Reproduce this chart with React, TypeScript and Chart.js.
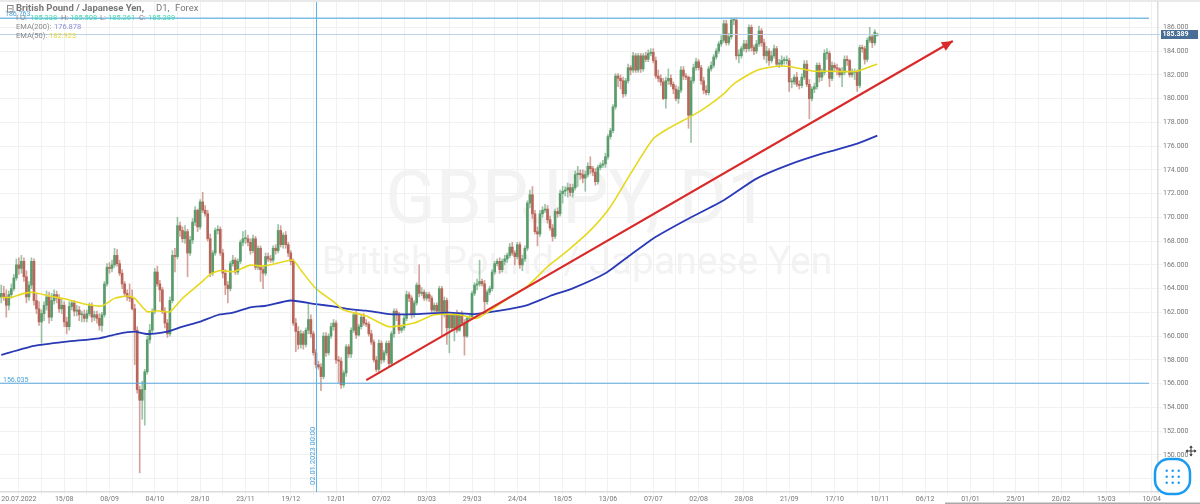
import React, { useEffect, useRef } from "react";
import { Chart, registerables } from "chart.js";

Chart.register(...registerables);

const slotCount = 460;
const tickLabels = ["20.07.2022","15/08","08/09","04/10","28/10","23/11","19/12","12/01","07/02","03/03","29/03","24/04","18/05","13/06","07/07","02/08","28/08","21/09","17/10","10/11","06/12","01/01","25/01","20/02","15/03","10/04"];
const yTicks = [148,150,152,154,156,158,160,162,164,166,168,170,172,174,176,178,180,182,184,186];

const opens = [
163.3,163.6,163.3,162.6,163.5,164.0,164.9,166.0,165.7,166.3,165.0,163.3,164.3,166.3,163.0,162.3,161.2,161.9,162.6,163.3,
161.6,163.0,163.5,163.2,162.3,162.6,161.2,160.8,162.5,162.8,162.1,162.2,161.8,161.8,161.5,161.9,162.6,161.6,161.8,161.5,
160.9,161.8,164.4,165.8,165.7,166.0,166.8,166.1,165.3,164.4,163.6,163.3,163.2,162.3,160.5,155.5,154.6,155.5,157.0,159.7,
160.5,162.1,165.4,164.4,163.9,162.1,161.1,160.2,163.0,166.8,166.7,169.3,168.9,168.2,168.8,167.0,168.1,169.6,170.6,169.2,
171.3,170.6,170.3,168.2,165.3,167.0,168.9,169.0,167.0,165.3,164.3,164.0,166.1,166.4,165.4,166.3,167.9,168.2,168.2,167.9,
167.2,168.2,165.8,167.4,165.6,165.3,166.7,166.5,166.4,167.4,167.2,168.9,167.7,168.5,167.7,167.0,166.3,161.1,160.4,
159.3,160.2,159.3,160.5,161.4,160.2,158.6,157.6,157.4,156.6,160.0,158.6,160.0,160.8,161.1,158.0,157.9,155.9,156.9,159.1,
158.5,160.5,161.8,160.1,160.8,161.6,161.1,161.0,160.2,159.5,158.0,157.2,159.4,158.0,158.6,159.4,157.7,160.2,162.1,161.8,
160.5,160.7,161.5,163.5,163.2,161.8,162.8,164.3,163.6,163.7,163.2,163.5,163.2,162.2,162.6,162.1,164.0,161.8,163.0,160.7,
161.8,160.7,161.8,160.5,161.9,161.1,160.0,161.5,161.6,163.6,164.3,164.4,164.6,164.4,162.9,163.7,164.0,165.4,166.1,166.3,
165.6,166.3,166.5,166.8,167.5,167.0,166.7,167.7,166.0,166.5,
167.4,171.2,171.9,170.3,168.8,168.6,170.3,170.6,170.7,169.8,169.1,168.4,170.5,170.3,172.0,172.2,172.3,172.5,172.1,172.5,173.6,173.7,173.6,173.3,173.6,174.3,
174.1,173.8,173.0,174.2,174.4,174.5,175.1,176.8,177.3,179.3,181.9,181.7,181.5,180.4,181.5,182.6,182.4,183.6,182.4,183.6,
182.5,183.6,183.3,183.8,183.9,183.2,181.9,181.7,181.4,180.0,181.5,181.7,181.2,180.8,180.0,180.7,182.4,181.9,181.8,178.6,
181.5,182.6,183.1,182.6,181.5,180.7,180.5,182.5,182.8,183.5,184.0,184.6,184.9,186.3,184.7,185.2,186.6,186.6,183.6,183.6,
184.2,184.6,184.2,186.0,184.3,184.0,184.6,185.7,184.7,183.6,184.0,183.2,183.6,184.2,182.9,182.9,183.2,183.2,183.2,181.4,
181.4,181.8,181.2,181.1,181.8,182.9,181.2,180.0,180.8,181.0,182.8,181.8,182.2,183.8,183.8,181.7,182.8,182.6,182.5,182.0,
182.2,183.3,183.2,182.0,182.2,182.2,181.1,184.3,184.2,183.3,184.9,185.2,184.7,185.34];

const highs = [
164.3,164.2,163.9,163.8,164.4,165.2,166.5,166.6,166.8,166.6,165.5,164.6,166.6,166.5,163.6,162.9,162.2,162.9,163.8,163.7,
163.6,163.9,163.8,163.5,163.2,162.9,161.6,162.9,163.0,163.0,162.6,162.5,162.1,162.2,162.2,162.8,162.8,162.1,162.1,161.9,
162.0,164.6,166.1,166.2,166.4,167.4,167.3,166.4,165.6,164.6,163.9,164.4,163.9,162.7,160.8,155.8,156.2,157.2,160.0,161.0,
162.3,165.7,165.9,164.7,164.1,162.4,161.4,163.3,167.2,167.4,170.0,169.6,169.2,169.3,169.0,168.4,169.9,170.9,170.7,171.5,
172.1,171.0,170.6,168.6,167.2,169.1,169.3,169.2,167.3,165.6,164.6,166.3,166.8,166.6,166.5,168.1,168.8,168.9,168.5,168.2,
168.5,168.4,167.6,167.6,165.9,167.0,167.0,166.8,167.6,167.7,169.4,169.3,168.7,168.8,167.9,167.2,166.5,161.5,160.8,
160.5,160.4,160.7,162.7,161.8,160.4,158.9,157.9,157.7,160.3,160.3,160.2,161.1,161.4,161.3,158.3,158.2,157.1,159.3,159.3,
160.7,162.0,162.1,161.0,161.8,161.9,161.4,161.2,160.5,159.7,158.3,159.7,159.6,158.8,159.6,159.6,160.4,162.3,162.3,162.0,
160.9,161.8,163.8,163.7,163.4,163.0,164.5,166.0,164.1,163.9,163.7,163.7,163.4,162.8,162.8,164.2,164.2,163.3,163.2,161.9,
162.0,161.9,162.2,162.0,162.1,161.4,161.7,161.8,163.8,164.5,164.8,166.4,164.8,164.7,163.9,164.2,165.6,166.3,166.5,166.6,
166.5,166.8,167.0,167.8,167.9,167.2,167.9,167.9,166.8,167.6,
171.4,172.3,172.6,170.6,169.2,170.6,170.9,171.1,171.0,170.1,169.4,170.7,170.8,172.3,172.6,172.6,172.9,172.8,172.8,173.9,174.3,174.0,174.0,173.9,174.6,175.1,
174.3,174.1,174.4,174.6,174.8,175.4,177.0,177.5,179.5,182.1,182.1,182.0,181.8,181.7,182.9,182.8,183.9,183.8,183.8,183.8,
183.8,183.9,184.1,184.2,184.2,183.5,182.4,182.0,181.7,181.8,182.5,182.0,181.4,181.1,181.0,182.7,182.7,182.1,181.9,181.8,
182.9,183.4,183.3,182.8,181.8,181.1,182.7,183.1,183.7,184.2,184.8,185.3,186.6,186.6,185.5,186.8,186.8,186.8,184.1,184.4,
184.9,184.9,186.2,186.2,184.5,184.9,186.1,185.9,185.0,184.4,184.2,184.0,184.5,184.4,183.3,183.6,183.5,183.6,183.4,181.7,
182.0,182.2,181.5,182.1,183.2,183.2,181.6,181.0,181.3,183.0,183.0,182.5,184.1,184.2,184.0,183.1,183.0,182.9,182.6,182.6,
183.6,183.6,183.3,182.5,182.5,182.4,184.5,184.5,184.4,185.1,186.0,185.4,185.8,185.51];

const lows = [
162.8,163.0,161.6,162.2,163.2,163.8,164.7,165.2,165.3,164.6,162.8,163.0,164.0,162.6,161.9,160.9,159.4,161.3,162.2,161.1,
161.3,162.7,162.8,162.0,161.9,160.8,160.2,160.5,162.2,161.7,161.7,161.3,161.2,161.2,161.2,161.7,161.2,161.3,161.1,160.5,
160.4,161.6,164.2,165.3,165.4,165.8,165.9,165.1,164.0,163.4,163.0,162.9,162.2,157.6,155.2,148.5,153.0,152.5,156.8,159.4,
160.3,161.9,164.2,162.9,161.9,160.7,159.9,160.0,162.8,165.4,166.5,168.4,167.9,167.8,165.0,166.8,167.8,169.3,168.8,169.0,
170.4,170.1,168.0,165.0,165.1,166.8,168.6,166.8,164.9,163.5,162.8,163.8,165.9,165.2,165.2,166.1,167.6,167.8,167.6,166.9,
167.0,165.6,165.6,164.6,164.0,165.1,166.3,166.2,166.2,166.9,167.0,167.5,167.4,167.4,166.7,166.0,160.9,158.7,158.9,
159.0,158.9,159.1,160.2,159.9,158.4,157.3,157.2,155.4,156.4,158.3,158.4,159.8,160.5,157.7,156.1,155.6,155.7,156.6,158.2,
158.2,160.3,159.8,160.0,160.6,160.9,160.8,160.0,159.3,157.8,157.0,156.9,157.7,157.8,158.4,157.4,157.5,159.9,161.3,160.2,
160.3,160.5,161.3,162.9,161.5,161.6,162.6,163.3,163.4,163.0,163.0,162.9,162.0,162.0,161.8,161.9,160.0,161.6,159.3,158.6,
160.5,159.6,160.3,160.4,160.9,158.4,159.9,161.3,161.4,163.4,163.9,164.2,164.2,162.2,162.7,163.5,163.8,165.2,165.9,165.3,
165.4,166.0,166.2,166.6,166.8,166.0,166.5,165.7,165.5,166.3,
167.2,170.8,169.9,168.6,167.6,168.4,170.0,170.4,169.5,168.9,168.0,168.2,170.0,170.1,171.2,171.8,171.7,171.8,171.7,172.3,172.6,173.2,172.9,172.2,173.4,173.7,
173.5,172.7,172.8,174.0,174.2,174.2,174.9,176.6,177.1,179.1,181.0,180.8,180.1,180.2,181.3,182.0,182.2,182.2,182.2,182.2,
182.3,183.1,183.1,183.6,183.0,181.7,181.4,181.1,179.9,179.2,181.2,181.0,180.4,179.8,179.6,180.5,181.6,181.6,177.5,176.3,
181.3,182.4,182.4,181.2,180.4,180.3,180.3,182.3,182.6,183.3,183.8,184.4,184.7,184.5,184.5,185.0,186.2,183.3,183.0,183.4,
184.0,183.9,184.0,184.0,183.7,183.8,184.4,184.4,183.3,183.0,182.8,183.0,183.4,182.7,182.6,182.7,182.9,182.9,180.6,180.9,
181.2,181.0,180.8,180.9,181.6,181.0,178.3,179.8,180.5,180.8,181.4,181.5,182.0,183.3,181.0,181.5,182.3,182.0,181.8,181.0,
182.0,182.8,181.8,181.8,181.6,180.6,180.9,183.9,182.9,183.1,184.7,184.3,184.5,185.26];

const closes = [
163.6,163.3,162.6,163.5,164.0,164.9,166.0,165.7,166.3,165.0,163.3,164.3,166.3,163.0,162.3,161.2,161.9,162.6,163.3,161.6,
163.0,163.5,163.2,162.3,162.6,161.2,160.8,162.5,162.8,162.1,162.2,161.8,161.8,161.5,161.9,162.6,161.6,161.8,161.5,160.9,
161.8,164.4,165.8,165.7,166.0,166.8,166.1,165.3,164.4,163.6,163.3,163.2,162.3,160.5,155.5,154.6,155.5,157.0,159.7,160.5,
162.1,165.4,164.4,163.9,162.1,161.1,160.2,163.0,166.8,166.7,169.3,168.9,168.2,168.8,167.0,168.1,169.6,170.6,169.2,171.3,
170.6,170.3,168.2,165.3,167.0,168.9,169.0,167.0,165.3,164.3,164.0,166.1,166.4,165.4,166.3,167.9,168.2,168.2,167.9,167.2,
168.2,165.8,167.4,165.6,165.3,166.7,166.5,166.4,167.4,167.2,168.9,167.7,168.5,167.7,167.0,166.3,161.1,160.4,159.3,
160.2,159.3,160.5,161.4,160.2,158.6,157.6,157.4,156.6,160.0,158.6,160.0,160.8,161.1,158.0,157.9,155.9,156.9,159.1,158.5,
160.5,161.8,160.1,160.8,161.6,161.1,161.0,160.2,159.5,158.0,157.2,159.4,158.0,158.6,159.4,157.7,160.2,162.1,161.8,160.5,
160.7,161.5,163.5,163.2,161.8,162.8,164.3,163.6,163.7,163.2,163.5,163.2,162.2,162.6,162.1,164.0,161.8,163.0,160.7,161.8,
160.7,161.8,160.5,161.9,161.1,160.0,161.5,161.6,163.6,164.3,164.4,164.6,164.4,162.9,163.7,164.0,165.4,166.1,166.3,165.6,
166.3,166.5,166.8,167.5,167.0,166.7,167.7,166.0,166.5,167.4,
171.2,171.9,170.3,168.8,168.6,170.3,170.6,170.7,169.8,169.1,168.4,170.5,170.3,172.0,172.2,172.3,172.5,172.1,172.5,173.6,173.7,173.6,173.3,173.6,174.3,174.1,
173.8,173.0,174.2,174.4,174.5,175.1,176.8,177.3,179.3,181.9,181.7,181.5,180.4,181.5,182.6,182.4,183.6,182.4,183.6,182.5,
183.6,183.3,183.8,183.9,183.2,181.9,181.7,181.4,180.0,181.5,181.7,181.2,180.8,180.0,180.7,182.4,181.9,181.8,178.6,181.5,
182.6,183.1,182.6,181.5,180.7,180.5,182.5,182.8,183.5,184.0,184.6,184.9,186.3,184.7,185.2,186.6,186.6,183.6,183.6,184.2,
184.6,184.2,186.0,184.3,184.0,184.6,185.7,184.7,183.6,184.0,183.2,183.6,184.2,182.9,182.9,183.2,183.2,183.2,181.4,181.4,
181.8,181.2,181.1,181.8,182.9,181.2,180.0,180.8,181.0,182.8,181.8,182.2,183.8,183.8,181.7,182.8,182.6,182.5,182.0,182.2,
183.3,183.2,182.0,182.2,182.2,181.1,184.3,184.2,183.3,184.9,185.2,184.7,185.6,185.39];

const ema200Index = [0,13,26,39,46,53,58,66,72,79,86,92,99,105,115,125,132,139,145,154,165,178,188,198,209,218,227,240,249,259,272,287,300,313,327,340,348];
const ema200Value = [158.42,159.18,159.54,159.82,160.18,160.38,160.18,160.38,160.8,161.22,161.78,161.98,162.42,162.56,163.0,162.7,162.5,162.26,162.14,161.86,161.86,161.98,161.86,162.14,162.62,163.38,164.02,165.29,166.69,168.23,169.78,171.44,173.26,174.44,175.42,176.2,176.88];
const ema50Index = [0,4,9,13,19,26,33,40,45,50,53,58,62,67,72,79,83,87,92,99,104,112,116,119,125,132,136,145,154,164,172,182,189,202,209,217,225,234,242,250,259,266,274,280,287,291,300,308,313,323,329,340,348];
const ema50Value = [163.26,163.26,163.6,163.68,163.38,163.1,162.7,162.54,163.18,163.38,163.18,162.06,162.14,162.06,163.18,164.44,165.2,165.53,165.42,165.98,165.9,166.26,166.4,165.56,164.0,162.9,162.2,161.7,160.8,161.1,161.8,161.8,161.5,163.3,164.2,165.85,167.2,168.9,170.9,173.68,176.62,177.6,178.5,179.28,180.4,181.24,182.36,182.72,182.7,182.3,182.3,182.3,182.92];
const arrowIndex = [145,378];
const arrowValue = [156.3,184.85];

const sparse = (idx: number[], val: number[]) => {
  const out: (number | null)[] = new Array(slotCount).fill(null);
  idx.forEach((k, n) => { out[k] = val[n]; });
  return out;
};

const GREEN = "#5a9c6c";
const RED = "#b8665a";
const FONT = "Roboto";

const overlay = {
  id: "overlay",
  beforeDraw(chart: any) {
    const { ctx, width, height } = chart;
    ctx.save();
    ctx.fillStyle = "#fff";
    ctx.fillRect(0, 0, width, height);
    ctx.fillStyle = "#e9e9e9";
    ctx.fillRect(0, 0, width, 2);
    ctx.textAlign = "center";
    ctx.textBaseline = "middle";
    ctx.fillStyle = "#f3f3f3";
    ctx.font = `74px ${FONT}`;
    ctx.fillText("GBPJPY, D1", 577, 204);
    ctx.font = `39px ${FONT}`;
    ctx.fillText("British Pound / Japanese Yen", 577, 264);
    ctx.restore();
  },
  afterDatasetsDraw(chart: any) {
    const { ctx, scales } = chart;
    const x = scales.x, y = scales.y;
    ctx.save();
    const hline = (v: number, right: number, color: string, w: number) => {
      ctx.strokeStyle = color; ctx.lineWidth = w;
      ctx.beginPath(); ctx.moveTo(0, y.getPixelForValue(v)); ctx.lineTo(right, y.getPixelForValue(v)); ctx.stroke();
    };
    hline(186.763, 1149, "#7dbde6", 1.5);
    hline(185.389, 1160, "#bcd0e6", 1);
    hline(156.035, 1149, "#5aa7dc", 1);
    ctx.strokeStyle = "#59b4ea"; ctx.lineWidth = 1;
    ctx.beginPath(); ctx.moveTo(316.5, 2); ctx.lineTo(316.5, 492); ctx.stroke();

    const tx = x.getPixelForValue(arrowIndex[1]), ty = y.getPixelForValue(arrowValue[1]);
    const sx = x.getPixelForValue(arrowIndex[0]), sy = y.getPixelForValue(arrowValue[0]);
    const a = Math.atan2(ty - sy, tx - sx);
    ctx.fillStyle = "#d92a2a";
    ctx.beginPath();
    ctx.moveTo(tx, ty);
    ctx.lineTo(tx - 11 * Math.cos(a) - 5 * Math.sin(a), ty - 11 * Math.sin(a) + 5 * Math.cos(a));
    ctx.lineTo(tx - 11 * Math.cos(a) + 5 * Math.sin(a), ty - 11 * Math.sin(a) - 5 * Math.cos(a));
    ctx.closePath(); ctx.fill();

    ctx.textBaseline = "middle"; ctx.textAlign = "left";
    ctx.font = `7px ${FONT}`;
    ctx.fillStyle = "#4aa3dc";
    ctx.fillText("186.763", 5, 14.5);
    ctx.fillText("156.035", 3, 380);
    ctx.save();
    ctx.translate(313, 485); ctx.rotate(-Math.PI / 2);
    ctx.font = `7.5px ${FONT}`;
    ctx.fillText("02.01.2023 00:00", 0, 0);
    ctx.restore();

    // header block
    ctx.strokeStyle = "#888"; ctx.lineWidth = 1;
    ctx.strokeRect(7.5, 5.5, 5.5, 6.5);
    ctx.beginPath(); ctx.moveTo(8.5, 8.8); ctx.lineTo(12, 8.8); ctx.stroke();
    ctx.fillStyle = "#777";
    ctx.font = `bold 9.5px ${FONT}`;
    ctx.fillText("British Pound / Japanese Yen,", 16, 9);
    ctx.font = `9.5px ${FONT}`;
    ctx.fillText("D1,", 156, 9);
    ctx.fillText("Forex", 175, 9);
    const pair = (px: number, py: number, label: string, vx: number, value: string, color: string) => {
      ctx.font = `7.5px ${FONT}`;
      ctx.fillStyle = "#888";
      ctx.fillText(label, px, py);
      ctx.fillStyle = color;
      ctx.fillText(value, vx, py);
    };
    pair(16, 18.5, "I O:", 30, "185.338", "#45dcab");
    pair(61, 18.5, "H:", 70, "185.508", "#45dcab");
    pair(100, 18.5, "L:", 108, "185.261", "#45dcab");
    pair(139, 18.5, "C:", 148, "185.389", "#45dcab");
    pair(16, 27.5, "EMA(200):", 54, "176.878", "#8b8bdc");
    pair(16, 36.5, "EMA(50):", 49, "182.923", "#e6d83c");

    // price tag
    ctx.fillStyle = "#4a6f96";
    ctx.fillRect(1161, 30, 37, 9);
    ctx.fillStyle = "#fff";
    ctx.font = `bold 7px ${FONT}`;
    ctx.fillText("185.389", 1162.5, 34.7);

    // grid button
    ctx.fillStyle = "#fff";
    ctx.strokeStyle = "#1a9bf0";
    ctx.lineWidth = 2.5;
    ctx.beginPath();
    ctx.roundRect(1155, 459, 35, 35, 14);
    ctx.fill(); ctx.stroke();
    ctx.fillStyle = "#1a9bf0";
    [-6, 0, 6].forEach((dx) => [-6, 0, 6].forEach((dy) => {
      ctx.beginPath(); ctx.arc(1172.7 + dx, 476.7 + dy, 1.2, 0, Math.PI * 2); ctx.fill();
    }));

    // move cursor
    ctx.strokeStyle = "#333"; ctx.lineWidth = 1; ctx.fillStyle = "#333";
    ctx.beginPath(); ctx.moveTo(1186.5, 451); ctx.lineTo(1195.5, 451); ctx.moveTo(1191, 446.5); ctx.lineTo(1191, 455.5); ctx.stroke();
    [[1191, 445.5, 0], [1191, 456.5, Math.PI], [1196.5, 451, Math.PI / 2], [1185.5, 451, -Math.PI / 2]].forEach(([cx, cy, r]) => {
      ctx.save(); ctx.translate(cx, cy); ctx.rotate(r);
      ctx.beginPath(); ctx.moveTo(0, 0); ctx.lineTo(-1.8, 2.2); ctx.lineTo(1.8, 2.2); ctx.closePath(); ctx.fill();
      ctx.restore();
    });

    // scrollbar
    ctx.fillStyle = "#a9a9a9";
    ctx.fillRect(945, 502.5, 255, 1.5);
    ctx.restore();
  },
};

export default function App() {
  const ref = useRef<HTMLCanvasElement>(null);
  useEffect(() => {
    const colors = closes.map((c, i) => (c >= opens[i] ? GREEN : RED));
    const labels = Array.from({ length: slotCount }, (_, i) => String(i));
    const chart = new Chart(ref.current!, {
      type: "bar",
      data: {
        labels,
        datasets: [
          { type: "line", data: sparse(arrowIndex, arrowValue), borderColor: "#d92a2a", borderWidth: 2.2, pointRadius: 0, spanGaps: true, order: 1 },
          { type: "line", data: sparse(ema50Index, ema50Value), borderColor: "#e6d81e", borderWidth: 1.6, pointRadius: 0, spanGaps: true, tension: 0.2, order: 2 },
          { type: "line", data: sparse(ema200Index, ema200Value), borderColor: "#2a39b5", borderWidth: 1.8, pointRadius: 0, spanGaps: true, tension: 0.2, order: 3 },
          { data: closes.map((c, i) => [Math.min(opens[i], c), Math.max(opens[i], c)]), backgroundColor: colors, barThickness: 2, minBarLength: 1, order: 4 },
          { data: highs.map((h, i) => [lows[i], h]), backgroundColor: colors.map((c) => c + "99"), barThickness: 1, order: 5 },
        ] as any,
      },
      options: {
        responsive: false,
        animation: false,
        layout: { padding: { top: 2, left: 0, right: 0, bottom: 0 } },
        plugins: { legend: { display: false }, tooltip: { enabled: false } },
        scales: {
          x: {
            stacked: true,
            grid: { offset: false, color: "#f1f1f1", tickLength: 3 },
            border: { color: "#dcdcdc", width: 1.5 },
            afterBuildTicks: (axis: any) => { axis.ticks = axis.ticks.filter((t: any) => t.value >= 7 && (t.value - 7) % 9 === 0); },
            afterFit: (axis: any) => { axis.height = 12; axis.paddingLeft = 0; axis.paddingRight = 0; },
            ticks: {
              autoSkip: false, maxRotation: 0, minRotation: 0, padding: 0,
              color: "#777", font: { family: FONT, size: 7 },
              callback: (v: any) => ((v - 7) % 18 === 0 ? tickLabels[(v - 7) / 18] : ""),
            },
          },
          y: {
            position: "right",
            min: 146.88, max: 188.13,
            grid: { color: "#f1f1f1", tickLength: 4 },
            border: { color: "#dcdcdc", width: 1.5 },
            afterBuildTicks: (axis: any) => { axis.ticks = yTicks.map((value) => ({ value })); },
            afterFit: (axis: any) => { axis.width = 42; axis.paddingTop = 0; axis.paddingBottom = 0; },
            ticks: {
              padding: 1, color: "#777", font: { family: FONT, size: 7 },
              callback: (v: any) => (v < 150 ? "" : Number(v).toFixed(3)),
            },
          },
        },
      },
      plugins: [overlay],
    } as any);
    return () => chart.destroy();
  }, []);
  return (
    <canvas
      ref={ref}
      width={1200}
      height={504}
      style={{ position: "fixed", left: 0, top: 0, width: 1200, height: 504, display: "block", filter: "blur(0.4px)" }}
    />
  );
}
